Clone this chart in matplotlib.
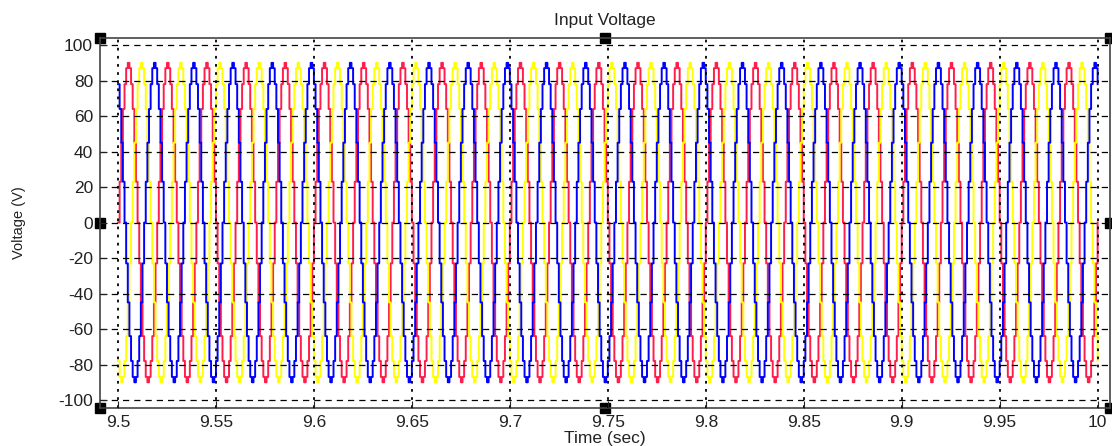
import numpy as np
import matplotlib
matplotlib.use("Agg")
import matplotlib.pyplot as plt

plt.rcParams['font.family'] = ['Liberation Sans', 'DejaVu Sans']
plt.rcParams['axes.unicode_minus'] = False

# one cycle of the staircase (50 Hz, 24 steps per cycle)
cycle_levels = [0, 23, 45, 64, 78, 87, 90, 87, 78, 64, 45, 23,
                0, -23, -45, -64, -78, -87, -90, -87, -78, -64, -45, -23]
f_hz = 50
n_cycles = 25
t_start = 9.5
phase_shift_steps = {"red": 0, "yellow": 8, "blue": 16}   # 120 deg apart
colors = {"red": "#ff1e4b", "yellow": "#ffff00", "blue": "#0000ff"}

steps = len(cycle_levels)
dt = 1.0 / (f_hz * steps)
t = t_start + np.arange(steps * n_cycles + 1) * dt

fig = plt.figure(figsize=(11.12, 4.46), dpi=100)
ax = fig.add_axes([0.0899, 0.0852, 0.9081, 0.8296])

for name in ["red", "yellow", "blue"]:
    lv = np.roll(cycle_levels, phase_shift_steps[name])
    v = np.concatenate([np.tile(lv, n_cycles), lv[:1]])
    ax.plot(t, v, drawstyle="steps-post", color=colors[name], lw=1.4)

ax.set_xlim(9.4908, 10.0062)
ax.set_ylim(-104.5, 104)
xt = [9.5, 9.55, 9.6, 9.65, 9.7, 9.75, 9.8, 9.85, 9.9, 9.95, 10.0]
ax.set_xticks(xt)
ax.set_xticklabels(["9.5", "9.55", "9.6", "9.65", "9.7", "9.75", "9.8", "9.85", "9.9", "9.95", "10"])
ax.set_yticks(range(-100, 101, 20))
ax.tick_params(direction="in", length=5, labelsize=12.5, colors="#222222")
ax.tick_params(axis="x", pad=5)
ax.tick_params(axis="y", pad=5)
for s in ax.spines.values():
    s.set_color("#444444")
    s.set_linewidth(1.2)

ax.xaxis.grid(True, linestyle=(0, (1.5, 3)), color="black", lw=1.3)
ax.yaxis.grid(True, linestyle=(0, (5, 4)), color="black", lw=0.9)
ax.set_axisbelow(False)

ax.set_title("Input Voltage", fontsize=12.5, pad=9, color="#222222")
ax.set_xlabel("Time (sec)", fontsize=12.5, labelpad=1, color="#222222")
ax.set_ylabel("Voltage (V)", fontsize=10.5, color="#222222")
ax.yaxis.set_label_coords(-0.073, 0.5)

# selection handles
for xa, ya in [(0, 1), (0.5, 1), (1, 1), (0, 0.5), (1, 0.5), (0, 0), (0.5, 0), (1, 0)]:
    ax.plot(xa, ya, marker="s", ms=7, color="black", transform=ax.transAxes, clip_on=False)

fig.savefig("out.png", dpi=100)
